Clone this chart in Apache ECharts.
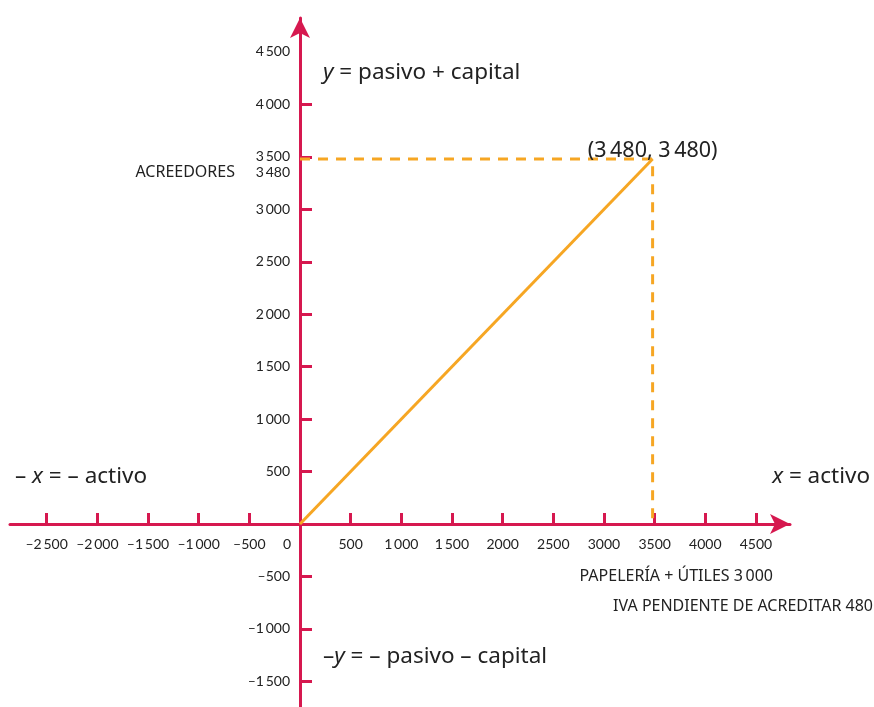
<!DOCTYPE html>
<html>
<head>
<meta charset="utf-8">
<title>Ecuación contable</title>
<script src="https://cdn.jsdelivr.net/npm/echarts@6/dist/echarts.min.js"></script>
</head>
<body style="margin:0;background:#fff;">
	<div id="main" style="width: 874px; height: 707px;"></div>
	<script type="text/javascript">
		// tick values / labels
		var xTickValues = [-2500, -2000, -1500, -1000, -500, 500, 1000, 1500, 2000, 2500, 3000, 3500, 4000, 4500];
		var xLabelValues = [-2500, -2000, -1500, -1000, -500, 0, 500, 1000, 1500, 2000, 2500, 3000, 3500, 4000, 4500];
		var xLabelTexts = ['–2\u2009500', '–2\u2009000', '–1\u2009500', '–1\u2009000', '–500', '{z|0}', '500', '1\u2009000', '1\u2009500', '2000', '2500', '3000', '3500', '4000', '4500'];
		var yTickValues = [-1500, -1000, -500, 500, 1000, 1500, 2000, 2500, 3000, 3500, 4000];
		var yLabelValues = [-1500, -1000, -500, 500, 1000, 1500, 2000, 2500, 3000, 3480, 3500, 4000, 4500];
		var yLabelTexts = ['–1\u2009500', '–1\u2009000', '–500', '500', '1\u2009000', '1\u2009500', '2\u2009000', '2\u2009500', '3\u2009000', '{d|3\u2009480}', '3\u2009500', '4\u2009000', '4\u2009500'];

		// the point and its guides
		var pointX = 3480;
		var pointY = 3480;
		var mainLine = [[0, 0], [pointX, pointY]];
		var guideLine = [[0, pointY], [pointX, pointY], [pointX, 0]];

		var axisRed = '#d6184f';
		var orange = '#f6a623';
		var txt = '#222';
		var font = 'Lato';
		var noteFont = 'Noto Sans';

		var myChart = echarts.init(document.getElementById('main'));

		function lookup(values, texts) {
			return function (v) {
				var i = values.indexOf(v);
				return i < 0 ? '' : texts[i];
			};
		}

		function note(x, y, text, size, align) {
			return {
				type: 'text', x: x, y: y,
				style: {
					text: text, fontSize: size, fontFamily: noteFont, fill: txt,
					align: align || 'left', verticalAlign: 'middle',
					rich: { i: { fontStyle: 'italic', fontSize: size, fontFamily: noteFont } }
				}
			};
		}

		var option = {
			backgroundColor: '#fff',
			animation: false,
			grid: { left: 10, right: 84, top: 18, bottom: 0, outerBoundsMode: 'none', containLabel: false },
			xAxis: {
				type: 'value',
				min: -2862, max: 4836,
				offset: -183,  // put the axis on y = 0
				splitLine: { show: false },
				axisLine: {
					onZero: false,
					lineStyle: { color: axisRed, width: 3 },
					symbol: ['none', 'arrow'],
					symbolSize: [15, 20]
				},
				axisTick: {
					inside: true, length: 11,
					customValues: xTickValues,
					lineStyle: { color: axisRed, width: 3 }
				},
				axisLabel: {
					customValues: xLabelValues,
					formatter: lookup(xLabelValues, xLabelTexts),
					margin: 13,
					color: txt, fontSize: 14, fontFamily: font,
					rich: { z: { padding: [0, 26, 0, 0], fontSize: 14, fontFamily: font, color: txt } }
				}
			},
			yAxis: {
				type: 'value',
				min: -1745, max: 4824,
				offset: -290,  // put the axis on x = 0
				splitLine: { show: false },
				axisLine: {
					onZero: false,
					lineStyle: { color: axisRed, width: 3 },
					symbol: ['none', 'arrow'],
					symbolSize: [15, 20]
				},
				axisTick: {
					inside: true, length: 12,
					customValues: yTickValues,
					lineStyle: { color: axisRed, width: 3 }
				},
				axisLabel: {
					customValues: yLabelValues,
					formatter: lookup(yLabelValues, yLabelTexts),
					margin: 10,
					color: txt, fontSize: 14, fontFamily: font,
					rich: { d: { padding: [28, 0, 0, 0], fontSize: 14, fontFamily: font, color: txt } }
				}
			},
			series: [{
				type: 'line',
				data: guideLine,
				symbol: 'none',
				lineStyle: { color: orange, width: 3, type: [10, 8] },
				z: 3
			}, {
				type: 'line',
				data: [mainLine[0], {
					value: mainLine[1],
					label: {
						show: true, position: 'top', distance: -3,
						formatter: '(3\u2009480, 3\u2009480)',
						fontSize: 21.5, fontFamily: noteFont, color: txt
					}
				}],
				symbol: 'circle',
				symbolSize: 1,
				itemStyle: { color: orange },
				lineStyle: { color: orange, width: 3 },
				z: 4
			}],
			graphic: [
				note(323, 73, '{i|y} = pasivo + capital', 22.5),
				note(15, 477, '– {i|x} = – activo', 22.5),
				note(870, 477, '{i|x} = activo', 22.5, 'right'),
				note(323, 657, '–{i|y} = – pasivo – capital', 22.5),
				note(235, 172, 'ACREEDORES', 16, 'right'),
				note(773, 576, 'PAPELERÍA + ÚTILES 3\u2009000', 16, 'right'),
				note(873, 606, 'IVA PENDIENTE DE ACREDITAR 480', 16, 'right')
			]
		};

		myChart.setOption(option);
	</script>
</body>
</html>
